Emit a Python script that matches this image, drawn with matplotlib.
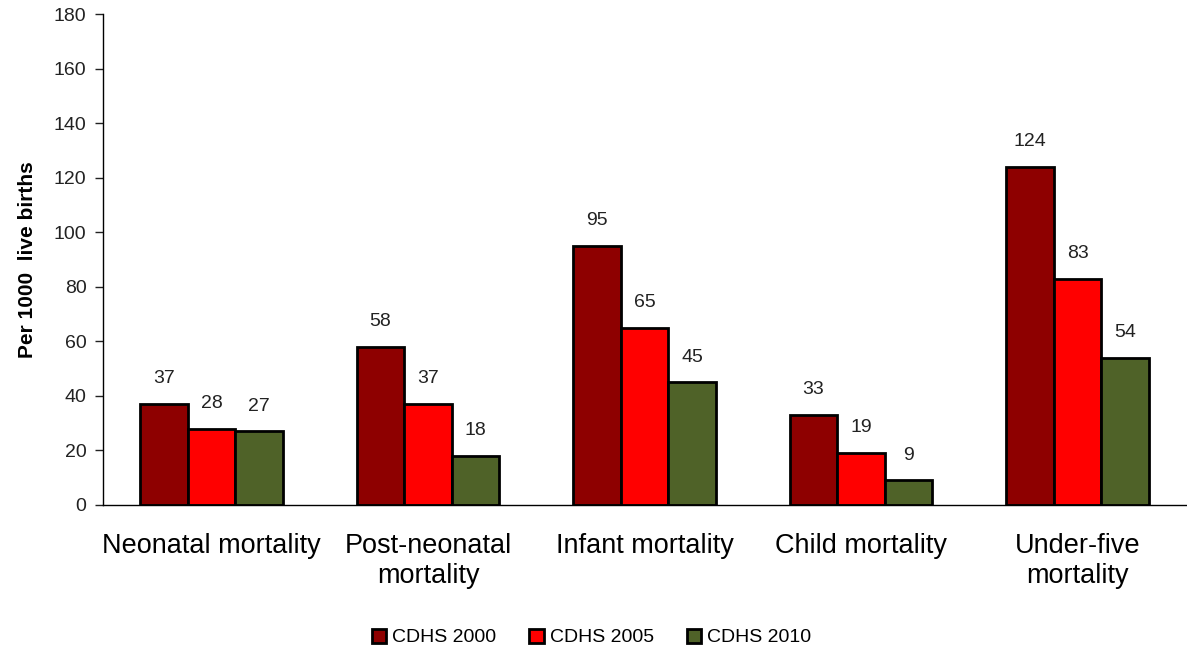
import matplotlib.pyplot as plt
import numpy as np

plt.rcParams['font.family'] = ['Liberation Sans', 'DejaVu Sans']

# Childhood mortality rates per 1000 live births, by survey
categories = ['Neonatal mortality', 'Post-neonatal\nmortality', 'Infant mortality',
              'Child mortality', 'Under-five\nmortality']
cdhs_2000 = [37, 58, 95, 33, 124]
cdhs_2005 = [28, 37, 65, 19, 83]
cdhs_2010 = [27, 18, 45, 9, 54]
series_names = ['CDHS 2000', 'CDHS 2005', 'CDHS 2010']
colors = ['#8E0000', '#FF0000', '#4F6228']

fig = plt.figure(figsize=(11.87, 6.52), dpi=100)
ax = fig.add_axes([0.087, 0.2255, 0.912, 0.753])

x = np.arange(len(categories)) + 0.5
width = 0.22
for i, (vals, name, col) in enumerate(zip([cdhs_2000, cdhs_2005, cdhs_2010], series_names, colors)):
    pos = x + (i - 1) * width
    ax.bar(pos, vals, width, color=col, edgecolor='black', linewidth=2, label=name)
    for px, v in zip(pos, vals):
        ax.annotate(str(v), (px, v), xytext=(0, 12), textcoords='offset points',
                    ha='center', va='bottom', fontsize=14, color='#222222')

ax.set_xlim(0, 5)
ax.set_ylim(0, 180)
ax.set_yticks(range(0, 181, 20))
ax.tick_params(axis='y', labelsize=14, length=6, width=1, colors='#222222', pad=6)
ax.set_xticks(x)
ax.set_xticklabels(categories, fontsize=19.5, color='black', linespacing=1.2)
ax.tick_params(axis='x', length=0, pad=20)
for s in ['top', 'right']:
    ax.spines[s].set_visible(False)
ax.spines['left'].set_linewidth(1)
ax.spines['bottom'].set_linewidth(1)
ax.set_ylabel('Per 1000  live births', fontsize=15, fontweight='bold', labelpad=12)

ax.legend(loc='center', bbox_to_anchor=(0.451, -0.27), ncol=3, frameon=False,
          fontsize=14, handlelength=0.75, handleheight=0.75, handletextpad=0.3,
          columnspacing=1.7)

fig.savefig('out.png', dpi=100)
